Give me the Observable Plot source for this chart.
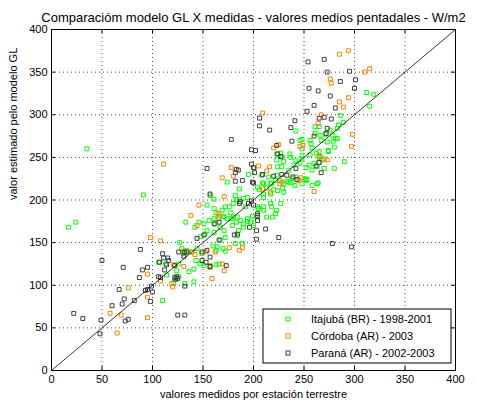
<!DOCTYPE html>
<html><head><meta charset="utf-8">
<script src="https://cdn.jsdelivr.net/npm/d3@7"></script>
<script src="https://cdn.jsdelivr.net/npm/@observablehq/plot@0.6"></script>
<style>body{margin:0;background:#fff} svg{display:block}</style>
</head><body><div id="chart"></div>
<script>
const itajuba = [
[17,168],[24,174],[91,206],[35,260],[110,82],
[223,254],[227,255],[236,254],[230,245],[242,246],[248,248],[256,253],[262,255],[265,250],[270,248],[274,257],[265,244],[270,237],[280,237],[260,243],[246,243],[252,238],[228,239],[224,239],[201,238],[195,230],[208,229],[215,227],[209,220],[210,219],[217,220],[222,223],[226,223],[230,219],[233,222],[237,220],[241,217],[251,225],[252,223],[258,217],[264,220],[204,215],[206,212],[213,214],[210,207],[220,212],[224,211],[229,214],[230,209],[210,203],[194,203],[190,202],[186,201],[183,200],[180,196],[176,192],[172,192],[169,188],[163,185],[165,178],[161,178],[171,180],[174,178],[178,178],[180,180],[183,174],[187,176],[190,172],[194,178],[194,175],[199,181],[204,180],[210,192],[218,192],[222,184],[219,180],[213,180],[210,188],[204,192],[154,194],[161,190],[151,172],[154,164],[152,160],[161,162],[167,168],[162,172],[156,176],[171,164],[179,170],[172,156],[184,158],[189,149],[170,143],[160,146],[163,141],[172,140],[163,124],[218,219],[223,229],[235,221],[238,225],
[133,174],[146,174],[142,168],[131,137],[127,150],[129,143],[134,141],[144,143],[139,139],[143,129],[147,125],[141,119],[136,116],[126,125],[124,117],[114,112],[113,125],[141,104],[132,102],
[161,201],[157,205],[174,221],[186,213],[182,149],[151,123],[157,123],[166,125],[167,153],[185,164],[184,180],[177,185],[170,181],
[148,157],[149,137],[164,145],[106,127],[121,103],[126,110],
[182,205],[192,192],[205,190],[217,207],[235,235],[240,241],[258,235],[263,239],[253,224],[263,219],[242,227],[223,188],[190,168],[197,174],[200,170],[217,196],[227,196],[248,219],
[312,326],[319,324],[315,310],[286,299],[284,288],[283,284],[289,291],[261,286],[265,286],[242,281],[248,271],[246,270],[256,270],[258,261],[266,276],[267,270],[279,269],[281,272],[283,272],[278,276],[274,258],[265,257],[237,250],[229,250],
[261,278],[271,277],[276,282],[273,268],[280,262],[257,266],[248,260],[248,252],[223,247],[266,251],[255,241],[290,245]
];
const cordoba = [
[285,371],[294,375],[310,350],[315,354],[276,342],[277,337],[294,320],[285,315],[289,309],[267,300],[209,302],[298,277],[297,263],[225,265],[220,261],[265,252],[268,247],[273,247],[246,263],[249,264],[178,238],[205,240],[216,239],[180,228],[169,226],[213,234],
[228,221],[226,219],[217,209],[209,213],[245,223],[247,226],[260,210],[264,290],
[165,184],[166,181],[176,144],[186,141],[189,144],[153,139],[162,139],[157,121],[159,108],[169,125],[171,117],[171,204],
[98,156],[108,152],[146,194],[138,182],[131,122],[130,140],[139,139],[142,136],[121,124],[119,102],[120,98],[108,105],[95,113],[95,86],[95,62],[76,97],[69,65],[58,67],[65,44],
[111,242],[144,170]
];
const parana = [
[50,129],[22,67],[31,61],[49,59],[48,43],[88,142],[71,121],[87,109],[90,118],[95,121],[67,95],[60,76],[70,78],[72,84],[73,58],[76,60],[82,82],[93,94],[95,95],[99,99],[100,92],[98,81],[106,110],[108,109],[107,127],[110,137],[111,132],[115,132],[116,129],[112,118],[114,124],[122,109],[123,107],[124,110],[125,108],[122,123],[125,65],[132,65],[132,99],[131,134],[132,139],[134,139],[126,139],[144,155],
[157,207],[161,172],[166,174],[181,159],[173,123],[153,127],[157,122],[149,139],[149,129],[154,141],[151,159],[157,133],[166,153],[184,160],
[187,198],[186,196],[198,199],[200,194],[204,184],[204,176],[196,168],[203,164],[212,166],[225,156],[203,154],[278,149],[297,145],
[224,254],[227,251],[154,237],[183,236],[185,235],[182,232],[182,222],[189,223],[198,242],[200,238],[200,220],[201,232],[209,230],[220,228],[228,230],[233,229],[242,237],[243,224],[239,227],[262,240],[267,232],[265,244],
[199,221],[195,196],[204,182],
[254,362],[270,365],[273,350],[295,351],[301,341],[286,339],[255,331],[264,328],[300,331],[276,322],[260,311],[281,308],[253,304],[265,296],[270,297],[277,295],[206,296],[206,287],[216,282],[241,293],[237,285],[273,284],[272,278],[260,275],[178,271],[238,269],[198,259],[202,258],[223,264]
];
const ticks = [0,50,100,150,200,250,300,350,400];
const diagonal = [[0,0],[400,400]];
const seriesNames = ["Itajubá (BR) - 1998-2001","Córdoba (AR) - 2003","Paraná (AR) - 2002-2003"];
const seriesColors = ["#00ff00","#ff8000","#404040"];
const titleText = "Comparacióm modelo GL X medidas - valores medios pentadales - W/m2";
const xLabel = "valores medidos por estación terrestre";
const yLabel = "valor estimado pelo modelo GL";

const font = "'Liberation Sans', Arial, sans-serif";
const W = 477, H = 406, mL = 51, mR = 22, mT = 29, mB = 36;
const fh = H - mT - mB, fw = W - mL - mR;
const dotOpts = c => ({x: d => d[0], y: d => d[1], symbol: "square", r: 2.2, stroke: c, strokeWidth: 1, fill: "none"});
const grid = {stroke: "#000", strokeDasharray: "1,3", strokeOpacity: 0.7};

const plot = Plot.plot({
  width: W, height: H, marginLeft: mL, marginRight: mR, marginTop: mT, marginBottom: mB,
  style: {fontFamily: font, fontSize: "11px", background: "#fff", color: "#000"},
  x: {domain: [0, 400]}, y: {domain: [0, 400]},
  marks: [
    Plot.ruleX(ticks.slice(1, -1), grid),
    Plot.ruleY(ticks.slice(1, -1), grid),
    Plot.dot(itajuba, dotOpts(seriesColors[0])),
    Plot.dot(cordoba, dotOpts(seriesColors[1])),
    Plot.dot(parana, dotOpts(seriesColors[2])),
    Plot.line(diagonal, {x: d => d[0], y: d => d[1], stroke: "#000", strokeWidth: 0.8}),
    Plot.ruleX(ticks, {insetTop: fh - 4, stroke: "#000"}),
    Plot.ruleX(ticks, {insetBottom: fh - 4, stroke: "#000"}),
    Plot.ruleY(ticks, {insetRight: fw - 4, stroke: "#000"}),
    Plot.ruleY(ticks, {insetLeft: fw - 4, stroke: "#000"}),
    Plot.frame({stroke: "#000"}),
    Plot.axisX(ticks, {tickSize: 0, tickPadding: 5, label: null, fontSize: 11}),
    Plot.axisY(ticks, {tickSize: 0, tickPadding: 4, label: null, fontSize: 11}),
    Plot.text([titleText], {frameAnchor: "top", dy: -17, fontSize: 13}),
    Plot.text([xLabel], {frameAnchor: "bottom", dy: 27, fontSize: 11}),
    Plot.text([yLabel], {frameAnchor: "left", dx: -38, rotate: -90, fontSize: 11})
  ]
});
document.getElementById("chart").appendChild(plot);

// legend box
const svg = d3.select(plot);
const lg = svg.append("g").attr("font-family", font).attr("font-size", 11).attr("text-anchor", "start");
lg.append("rect").attr("x", 263).attr("y", 309).attr("width", 188).attr("height", 54)
  .attr("fill", "#fff").attr("stroke", "#000");
seriesNames.forEach((n, i) => {
  const cy = 319 + i * 17;
  lg.append("rect").attr("x", 286).attr("y", cy - 2).attr("width", 4).attr("height", 4)
    .attr("fill", "none").attr("stroke", seriesColors[i]);
  lg.append("text").attr("x", 311).attr("y", cy).attr("dy", "0.35em").attr("fill", "#000").text(n);
});
</script></body></html>
